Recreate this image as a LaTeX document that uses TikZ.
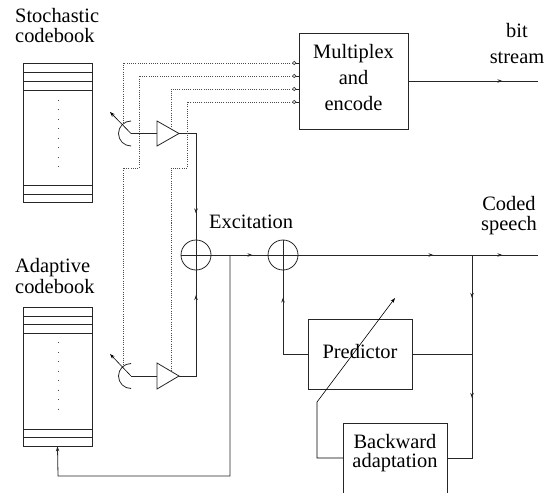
\documentclass[tikz,border=0pt]{standalone}
\usepackage{fontspec}
\setmainfont{Liberation Serif}
\newfontfamily\lserif{Liberation Serif}
\usetikzlibrary{arrows.meta,decorations.markings}
\begin{document}
\begin{tikzpicture}[x=1bp,y=-1bp,
  ln/.style={line width=0.8bp, draw=black!85},
  dotl/.style={line width=0.8bp, draw=black!70, dash pattern=on 1bp off 1.2bp},
  txt/.style={inner sep=0pt, font=\lserif\fontsize{20.5}{#1}\selectfont},
  blk/.style={draw=black!85, line width=0.8bp, inner sep=0pt},
  endtip/.style={-{Stealth[length=5bp,width=3.5bp]}},
  marrow/.style={postaction={decorate,decoration={markings,mark=at position #1 with {\arrow{Stealth[length=5bp,width=3.5bp]}}}}}
]
\useasboundingbox (0,0) rectangle (554,493);

% codebooks
\node[blk, minimum width=69bp, minimum height=139bp] (sb) at (57.5,132.5) {};
\node[blk, minimum width=69bp, minimum height=139bp] (ab) at (57.5,376.5) {};
\foreach \yy in {72,81,90,185,194} \draw[ln] (23,\yy) -- (92,\yy);
\foreach \yy in {316,324,333,429,437} \draw[ln] (23,\yy) -- (92,\yy);
\draw[line width=0.9bp, draw=black!70, dash pattern=on 0.9bp off 8.6bp] (58,100) -- (58,170);
\draw[line width=0.9bp, draw=black!70, dash pattern=on 0.9bp off 8.6bp] (58,342) -- (58,412);

\node[txt=20, anchor=north west, align=left] (sl) at (15,8) {Stochastic\\codebook};
\node[txt=21, anchor=north west, align=left] (al) at (15,258) {Adaptive\\codebook};

% switches
\coordinate (sw1) at (131,133.5);
\coordinate (sw2) at (131,376);
\draw[ln] (131,146) arc[start angle=90,end angle=270,radius=12.5];
\draw[ln] (131,388.5) arc[start angle=90,end angle=270,radius=12.5];
\coordinate (sw1t) at (110,112);
\coordinate (sw2t) at (110,354);
\draw[line width=0.6bp, endtip] (sw1) -- (sw1t);
\draw[line width=0.6bp, endtip] (sw2) -- (sw2t);

% amplifiers
\draw[ln] (157,121) -- (179,133.5) -- (157,146) -- cycle;
\draw[ln] (157,363) -- (179,376) -- (157,389) -- cycle;
\coordinate (a1i) at (157,133.5);
\coordinate (a1o) at (179,133.5);
\coordinate (a2i) at (157,376);
\coordinate (a2o) at (179,376);
\draw[ln] (sw1) -- (a1i);
\draw[ln] (sw2) -- (a2i);

% summing junctions
\node[blk, circle, minimum size=30bp] (s1) at (196,255) {};
\node[blk, circle, minimum size=30bp] (s2) at (283,255) {};
\draw[ln] (s1.north) -- (s1.south) (s1.west) -- (s1.east);
\draw[ln] (s2.north) -- (s2.south) (s2.west) -- (s2.east);

\draw[ln, marrow=97bp] (a1o) -- (196,133.5) -- (s1.north);
\draw[ln, marrow=98bp] (a2o) -- (196,376) -- (s1.south);
\draw[ln, marrow=41bp] (s1.east) -- (s2.west);
\coordinate (br1) at (230,255);
\draw[ln, endtip] (br1) -- (230,476) -- (58,476) -- (ab.south);
\node[txt=20, anchor=base west] (exc) at (209,228) {Excitation};

% multiplexer
\node[blk, minimum width=109bp, minimum height=96bp] (mux) at (353.5,81) {};
\node[txt=26, align=center, anchor=north] (muxt) at (353.5,44) {Multiplex\\and\\encode};
\coordinate (bs) at (538,81);
\draw[ln, marrow=94bp] (mux.east) -- (bs);
\node[txt=26, align=center, anchor=north] (bsl) at (517,23) {bit\\stream};

% ports and dotted control lines
\foreach \yy in {63,76,89,102} {
  \draw[line width=0.6bp, draw=black!80] (294.2,\yy) circle[radius=1.7];
  \draw[ln] (295.9,\yy) -- (mux.west |- 0,\yy);
}
\draw[dotl] (292.5,63) -- (123,63) -- (123,124);
\draw[dotl] (292.5,76) -- (139,76) -- (139,168) -- (123,168) -- (123,366);
\draw[dotl] (292.5,89) -- (171,89) -- (171,128);
\draw[dotl] (292.5,102) -- (187,102) -- (187,168) -- (171,168) -- (171,371);

% output and predictor loop
\coordinate (cs) at (538,255);
\draw[ln, marrow=135bp, marrow=204bp] (s2.east) -- (cs);
\node[txt=20, align=center, anchor=north] (csl) at (509,196) {Coded\\speech};

\node[blk, minimum width=104bp, minimum height=70bp] (pred) at (360,354) {};
\node[txt=20, anchor=base] (predt) at (360,358) {Predictor};

\draw[ln] (343,493) -- (343,423) -- (447,423) -- (447,493);
\coordinate (bw) at (343,458);
\coordinate (be) at (447,458);
\node[txt=19, align=center, anchor=north] (backt) at (395,434) {Backward\\adaptation};

\coordinate (br2) at (472,255);
\draw[ln, marrow=43bp, marrow=143bp] (br2) -- (472,458) -- (be);
\draw[ln] (pred.east) -- (472,354);
\draw[ln, marrow=81bp] (pred.west) -- (283,354) -- (s2.south);
\coordinate (adj) at (395,298);
\draw[line width=0.6bp, endtip] (bw) -- (317,458) -- (317,402) -- (adj);
\end{tikzpicture}
\end{document}
